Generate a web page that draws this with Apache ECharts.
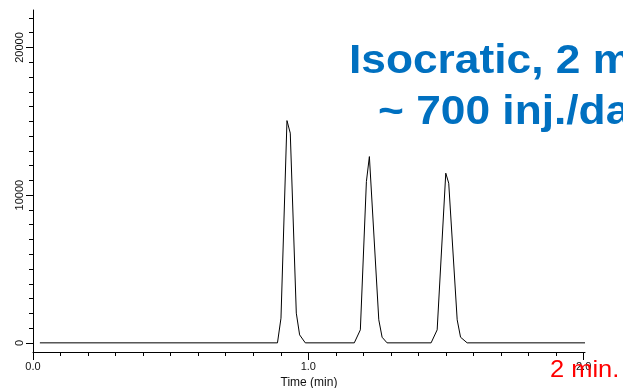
<!DOCTYPE html>
<html>
<head>
<meta charset="utf-8">
<script src="https://cdn.jsdelivr.net/npm/echarts@6/dist/echarts.min.js"></script>
<style>
html,body{margin:0;padding:0;background:#fff;}
#c{width:623px;height:388px;}
</style>
</head>
<body>
<div id="c"></div>
<script>
// Chromatogram trace: [time (min), signal]
var traceTime = [0.025, 0.888, 0.9007, 0.9225, 0.9345, 0.9564, 0.9684, 0.989,
                 1.167, 1.189, 1.211, 1.2218, 1.256, 1.268, 1.286,
                 1.446, 1.468, 1.4993, 1.510, 1.5407, 1.553, 1.577, 2.005];
var traceSignal = [0, 0, 1670, 15050, 14200, 2010, 540, 0,
                   0, 880, 10920, 12613, 1560, 380, 0,
                   0, 880, 11490, 10810, 1560, 380, 0, 0];
var xMinorTicks = [0,0.1,0.2,0.3,0.4,0.5,0.6,0.7,0.8,0.9,1.0,1.1,1.2,1.3,1.4,1.5,1.6,1.7,1.8,1.9,2.0];
var xMajorTicks = [0, 1, 2];
var yMinorTicks = [0,1000,2000,3000,4000,5000,6000,7000,8000,9000,10000,11000,12000,13000,14000,15000,16000,17000,18000,19000,20000,21000,22000];
var yMajorTicks = [0, 10000, 20000];
var titleLine1 = 'Isocratic, 2 min.';
var titleLine2 = '~ 700 inj./day';
var noteText = '2 min.';

var data = traceTime.map(function (t, i) { return [t, traceSignal[i]]; });
var FONT = '"Liberation Sans", Arial, sans-serif';
var gridBox = {left: 33, right: 38, top: 10, bottom: 36, containLabel: false, outerBoundsMode: 'none'};
var xr = {min: 0, max: 2.005};
var yr = {min: -620, max: 22540};

var chart = echarts.init(document.getElementById('c'), null, {renderer: 'canvas'});
chart.setOption({
  animation: false,
  backgroundColor: '#fff',
  grid: [
    Object.assign({}, gridBox),
    Object.assign({}, gridBox)
  ],
  xAxis: [
    {
      type: 'value', gridIndex: 0, min: xr.min, max: xr.max,
      splitLine: {show: false},
      axisLine: {show: true, onZero: false, lineStyle: {color: '#000', width: 1}},
      axisTick: {show: true, length: 4, customValues: xMinorTicks, lineStyle: {color: '#000'}},
      axisLabel: {show: false}
    },
    {
      type: 'value', gridIndex: 1, min: xr.min, max: xr.max,
      splitLine: {show: false},
      axisLine: {show: false, onZero: false},
      axisTick: {show: true, length: 8, customValues: xMajorTicks, lineStyle: {color: '#000'}},
      axisLabel: {
        show: true, customValues: xMajorTicks, margin: 9,
        color: '#111', fontSize: 11, fontFamily: FONT,
        formatter: function (v) { return Number(v).toFixed(1); }
      },
      name: 'Time (min)', nameLocation: 'middle', nameGap: 24,
      nameTextStyle: {color: '#111', fontSize: 12, fontFamily: FONT}
    }
  ],
  yAxis: [
    {
      type: 'value', gridIndex: 0, min: yr.min, max: yr.max,
      splitLine: {show: false},
      axisLine: {show: true, onZero: false, lineStyle: {color: '#000', width: 1}},
      axisTick: {show: true, length: 4, customValues: yMinorTicks, lineStyle: {color: '#000'}},
      axisLabel: {show: false}
    },
    {
      type: 'value', gridIndex: 1, min: yr.min, max: yr.max,
      splitLine: {show: false},
      axisLine: {show: false, onZero: false},
      axisTick: {show: true, length: 7, customValues: yMajorTicks, lineStyle: {color: '#000'}},
      axisLabel: {
        show: true, customValues: yMajorTicks, rotate: 90, margin: 8,
        color: '#111', fontSize: 11, fontFamily: FONT,
        formatter: function (v) { return String(v); }
      }
    }
  ],
  series: [{
    type: 'line', xAxisIndex: 0, yAxisIndex: 0,
    data: data, symbol: 'none', showSymbol: false,
    lineStyle: {color: '#000', width: 1},
    silent: true
  }],
  graphic: [
    {type: 'text', x: 349, y: 41, scaleX: 1.08, z: 100,
     style: {text: titleLine1, fill: '#0070c0', fontSize: 41, fontWeight: 'bold', fontFamily: FONT, verticalAlign: 'top'}},
    {type: 'text', x: 378, y: 92, scaleX: 1.08, z: 100,
     style: {text: titleLine2, fill: '#0070c0', fontSize: 41, fontWeight: 'bold', fontFamily: FONT, verticalAlign: 'top'}},
    {type: 'text', x: 550, y: 358, scaleX: 1.06, z: 100,
     style: {text: noteText, fill: '#ff0000', fontSize: 24, fontFamily: FONT, verticalAlign: 'top'}}
  ]
});
</script>
</body>
</html>
